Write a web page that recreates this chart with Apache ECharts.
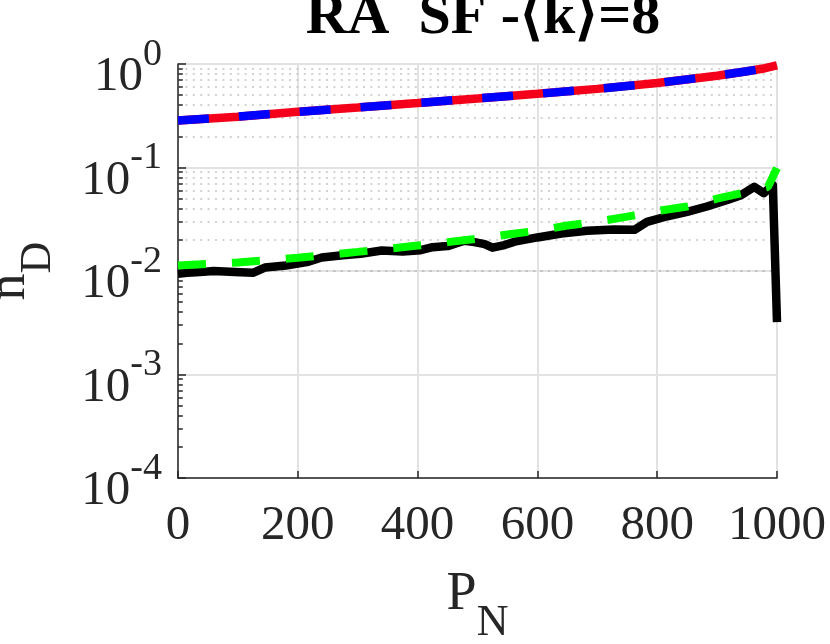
<!DOCTYPE html>
<html>
<head>
<meta charset="utf-8">
<style>
 html,body{margin:0;padding:0;background:#fff;}
 #chart{width:830px;height:644px;}
</style>
</head>
<body>
<div id="chart"></div>
<script src="https://cdn.jsdelivr.net/npm/echarts@6/dist/echarts.min.js"></script>
<script>
// red (solid) and blue (dashed) curves share the same x
var topX   = [0, 100, 200, 300, 400, 500, 600, 700, 800, 900, 950, 980, 1000];
var redY   = [0.285, 0.31, 0.345, 0.38, 0.42, 0.465, 0.515, 0.575, 0.655, 0.77, 0.85, 0.91, 0.97];
var blueY  = [0.285, 0.31, 0.345, 0.38, 0.42, 0.465, 0.515, 0.575, 0.655, 0.77, 0.85, 0.91, 0.97];

// black noisy curve
var blackX = [0, 15, 30, 60, 95, 125, 145, 180, 215, 240, 275, 305, 340, 375, 405, 425, 450, 478, 495, 512, 525, 545, 562, 600, 640, 683, 728, 762, 783, 817, 850, 883, 917, 940, 962, 978, 993, 1000];
var blackY = [0.0094, 0.0096, 0.0097, 0.0100, 0.0098, 0.0096, 0.0108, 0.0113, 0.0122, 0.0135, 0.0142, 0.0147, 0.0158, 0.0154, 0.0159, 0.0170, 0.0174, 0.0196, 0.0190, 0.0182, 0.0168, 0.0178, 0.0192, 0.0211, 0.0230, 0.0245, 0.0252, 0.0250, 0.0298, 0.0338, 0.0373, 0.0420, 0.0485, 0.0540, 0.0650, 0.0565, 0.0680, 0.0032];

// green dashed curve
var greenX = [0, 50, 100, 150, 200, 250, 300, 350, 400, 450, 500, 550, 600, 650, 700, 750, 800, 850, 900, 950, 985, 1000];
var greenY = [0.0113, 0.0117, 0.0121, 0.0127, 0.0134, 0.0143, 0.0153, 0.0164, 0.0176, 0.0190, 0.0205, 0.0225, 0.0245, 0.0275, 0.0300, 0.0335, 0.0380, 0.0420, 0.0500, 0.0580, 0.0650, 0.0990];

var decades = [-4, -3, -2, -1, 0];

function pairs(xs, ys) {
    var out = [];
    for (var i = 0; i < xs.length; i++) out.push([xs[i], ys[i]]);
    return out;
}

// minor grid (dotted) and minor ticks at 2..9 x 10^e
var minorGrid = [], minorTicks = [];
for (var d = 0; d < decades.length - 1; d++) {
    for (var m = 2; m <= 9; m++) {
        var v = m * Math.pow(10, decades[d]);
        minorGrid.push({yAxis: v});
        minorTicks.push([{coord: [0, v]}, {coord: [8, v]}]);
    }
}

var font = 'Liberation Serif';
var textCol = '#262626';

var options = {
    animation: false,
    backgroundColor: '#fff',
    title: {
        text: 'RA  SF -\u27e8k\u27e9=8',
        left: 483,
        top: -11,
        textAlign: 'center',
        padding: 0,
        textStyle: {fontFamily: font, fontWeight: 'bold', fontSize: 58, color: '#000'}
    },
    grid: {left: 178, right: 53, top: 64, bottom: 166, containLabel: false, outerBoundsMode: 'none'},
    xAxis: {
        type: 'value', min: 0, max: 1000, interval: 200,
        name: '{p|P}{s|N}',
        nameLocation: 'middle', nameGap: 90,
        nameTextStyle: {
            rich: {
                p: {fontFamily: font, fontSize: 54, lineHeight: 54, color: textCol, verticalAlign: 'top'},
                s: {fontFamily: font, fontSize: 44, lineHeight: 77, color: textCol, verticalAlign: 'bottom'}
            }
        },
        axisLine: {onZero: false, lineStyle: {color: textCol, width: 1.5}},
        axisTick: {inside: true, length: 7, lineStyle: {color: textCol, width: 1.5}},
        axisLabel: {fontFamily: font, fontSize: 49, color: textCol, margin: 24,
            formatter: function (v) { return String(v); }},
        splitLine: {show: true, lineStyle: {color: '#e2e2e2', width: 2}}
    },
    yAxis: {
        type: 'log', logBase: 10, min: 1e-4, max: 1, splitNumber: 4,
        name: '{n|n}{d|D}',
        nameLocation: 'middle', nameGap: 118, nameRotate: 90,
        nameTextStyle: {
            rich: {
                n: {fontFamily: font, fontSize: 54, lineHeight: 54, color: textCol, verticalAlign: 'top'},
                d: {fontFamily: font, fontSize: 44, lineHeight: 77, color: textCol, verticalAlign: 'bottom'}
            }
        },
        axisLine: {show: true, onZero: false, lineStyle: {color: textCol, width: 1.5}},
        axisTick: {inside: true, length: 8, lineStyle: {color: textCol, width: 1.5}},
        axisLabel: {
            margin: 16,
            padding: [10, 0, 0, 0],
            formatter: function (v) {
                return '{b|10}{e|' + Math.round(Math.log10(v)) + '}';
            },
            rich: {
                b: {fontFamily: font, fontSize: 49, lineHeight: 66, color: textCol, verticalAlign: 'bottom'},
                e: {fontFamily: font, fontSize: 38, lineHeight: 38, color: textCol, verticalAlign: 'top'}
            }
        },
        splitLine: {show: true, lineStyle: {color: '#e2e2e2', width: 2}}
    },
    series: [
        {
            type: 'line', data: [], silent: true, z: 1,
            markLine: {
                silent: true, symbol: 'none', animation: false, z: 1,
                label: {show: false},
                lineStyle: {color: '#c4c4c4', width: 1.5, type: [2, 5.4]},
                emphasis: {disabled: true},
                data: minorGrid
            }
        },
        {
            type: 'line', data: [], silent: true, z: 1,
            markLine: {
                silent: true, symbol: 'none', animation: false, z: 1,
                label: {show: false},
                lineStyle: {color: textCol, width: 1.5, type: 'solid'},
                emphasis: {disabled: true},
                data: minorTicks
            }
        },
        {
            name: 'red', type: 'line', data: pairs(topX, redY), showSymbol: false, clip: false, z: 3,
            lineStyle: {color: '#f5001a', width: 8.5}
        },
        {
            name: 'blue', type: 'line', data: pairs(topX, blueY), showSymbol: false, clip: false, z: 4,
            lineStyle: {color: '#0000ff', width: 8.5, type: [31, 30]}
        },
        {
            name: 'black', type: 'line', data: pairs(blackX, blackY), showSymbol: false, clip: false, z: 3,
            lineStyle: {color: '#000', width: 8.5, join: 'round'}
        },
        {
            name: 'green', type: 'line', data: pairs(greenX, greenY), showSymbol: false, clip: false, z: 4,
            lineStyle: {color: '#00ff00', width: 8, type: [28, 26]}
        }
    ]
};

var myChart = echarts.init(document.getElementById('chart'));
myChart.setOption(options);
</script>
</body>
</html>
